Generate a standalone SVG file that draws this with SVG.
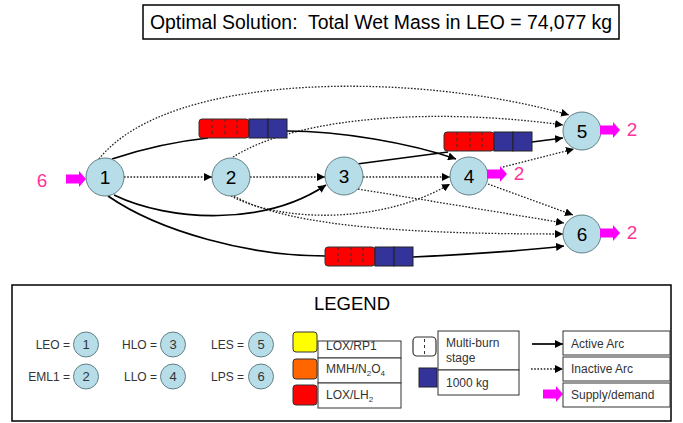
<svg xmlns="http://www.w3.org/2000/svg" width="683" height="423" viewBox="0 0 683 423">
<defs>
<style>
text{font-family:"Liberation Sans",Arial,sans-serif}
.node{fill:#B7DEE8;stroke:#5F7F86;stroke-width:1}
.num{font-size:19px;text-anchor:middle;fill:#000}
.pink{font-size:19px;text-anchor:middle;fill:#FF3399}
.act{fill:none;stroke:#000;stroke-width:1.7}
.ina{fill:none;stroke:#222;stroke-width:1.3;stroke-dasharray:1.6 1.6}
.red{fill:#FF0000;stroke:#333;stroke-width:1}
.blue{fill:#333399;stroke:#222;stroke-width:1}
.div{stroke:#333;stroke-width:1;stroke-dasharray:3 3}
.lg{font-size:12px;fill:#333}
.lgbox{fill:#fff;stroke:#333;stroke-width:1}
.lnum{font-size:13px;text-anchor:middle;fill:#333}
.sup{fill:#FF00FF}
</style>
<marker id="ah" viewBox="0 0 10 10" refX="10" refY="5" markerWidth="8" markerHeight="8" markerUnits="userSpaceOnUse" orient="auto"><path d="M0,0 L10,5 L0,10 z" fill="#000"/></marker>
<path id="sarrow" d="M0,-4.5 H13 V-8 L20,0 L13,8 V4.5 H0 z" class="sup"/>
</defs>
<rect width="683" height="423" fill="#fff"/>

<g id="title">
<rect x="143" y="5" width="476" height="34" fill="#fff" stroke="#000" stroke-width="1.5"/>
<text x="381" y="28.5" font-size="19.4" text-anchor="middle" xml:space="preserve">Optimal Solution:  Total Wet Mass in LEO = 74,077 kg</text>
</g>

<g id="connectors">
<path class="ina" d="M99,159 C170,70 420,72 569,115" marker-end="url(#ah)"/>
<path class="ina" d="M233,157 C300,115 440,108 563,125" marker-end="url(#ah)"/>
<path class="ina" d="M124,177 L212,177" marker-end="url(#ah)"/>
<path class="ina" d="M250,177 L325,177" marker-end="url(#ah)"/>
<path class="ina" d="M363,177 L450,177" marker-end="url(#ah)"/>
<path class="ina" d="M503,167 L574,149" marker-end="url(#ah)"/>
<path class="ina" d="M488,184 L573,215" marker-end="url(#ah)"/>
<path class="ina" d="M358,189 L564,223" marker-end="url(#ah)"/>
<path class="ina" d="M231,196 C280,222 380,225 450,184" marker-end="url(#ah)"/>
<path class="ina" d="M234,196 C290,228 420,234 563,234" marker-end="url(#ah)"/>
<path class="act" d="M112,159 Q160,143 208,138"/>
<path class="act" d="M287,131 C340,131 410,143 456,159" marker-end="url(#ah)"/>
<path class="act" d="M114,195 C170,222 265,226 326,185" marker-end="url(#ah)"/>
<path class="act" d="M108,196 C160,232 250,256 325,256"/>
<path class="act" d="M413,257 C480,254 530,250 564,246" marker-end="url(#ah)"/>
<path class="act" d="M357,164 L448,152"/>
<path class="act" d="M532,142 L563,138" marker-end="url(#ah)"/>
</g>

<g id="stageA">
<rect class="red" x="199" y="119" width="50" height="19" rx="3"/>
<line class="div" x1="212" y1="119" x2="212" y2="138"/>
<line class="div" x1="225" y1="119" x2="225" y2="138"/>
<line class="div" x1="237" y1="119" x2="237" y2="138"/>
<rect class="blue" x="249" y="119" width="19" height="19"/>
<rect class="blue" x="268" y="119" width="19" height="19"/>
</g>
<g id="stageB">
<rect class="red" x="444" y="132" width="50" height="19" rx="3"/>
<line class="div" x1="457" y1="132" x2="457" y2="151"/>
<line class="div" x1="470" y1="132" x2="470" y2="151"/>
<line class="div" x1="482" y1="132" x2="482" y2="151"/>
<rect class="blue" x="494" y="132" width="19" height="19"/>
<rect class="blue" x="513" y="132" width="19" height="19"/>
</g>
<g id="stageC">
<rect class="red" x="325" y="247" width="50" height="19" rx="3"/>
<line class="div" x1="338" y1="247" x2="338" y2="266"/>
<line class="div" x1="351" y1="247" x2="351" y2="266"/>
<line class="div" x1="363" y1="247" x2="363" y2="266"/>
<rect class="blue" x="375" y="247" width="19" height="19"/>
<rect class="blue" x="394" y="247" width="19" height="19"/>
</g>

<g id="n1"><circle class="node" cx="105" cy="177" r="19"/><text class="num" x="105" y="184">1</text></g>
<g id="n2"><circle class="node" cx="231" cy="177" r="19"/><text class="num" x="231" y="184">2</text></g>
<g id="n3"><circle class="node" cx="344" cy="176" r="19"/><text class="num" x="344" y="183">3</text></g>
<g id="n4"><circle class="node" cx="469" cy="176" r="19"/><text class="num" x="469" y="183">4</text></g>
<g id="n5"><circle class="node" cx="582" cy="131" r="19"/><text class="num" x="582" y="138">5</text></g>
<g id="n6"><circle class="node" cx="582" cy="234" r="19"/><text class="num" x="582" y="241">6</text></g>

<g id="supply1"><use href="#sarrow" x="66" y="179"/><text class="pink" x="42" y="187">6</text></g>
<g id="demand4"><use href="#sarrow" x="487" y="174"/><text class="pink" x="519" y="180">2</text></g>
<g id="demand5"><use href="#sarrow" x="600" y="130"/><text class="pink" x="632" y="136">2</text></g>
<g id="demand6"><use href="#sarrow" x="600" y="233"/><text class="pink" x="632" y="239">2</text></g>

<g id="legend">
<rect x="12" y="285" width="659" height="136" fill="#fff" stroke="#000" stroke-width="1.5"/>
<text x="352" y="310" font-size="18.5" text-anchor="middle" fill="#000">LEGEND</text>
<text class="lg" x="70" y="349" text-anchor="end">LEO =</text>
<circle class="node" cx="86" cy="344.5" r="12.5"/><text class="lnum" x="86" y="349">1</text>
<text class="lg" x="70" y="381" text-anchor="end">EML1 =</text>
<circle class="node" cx="86" cy="376.5" r="12.5"/><text class="lnum" x="86" y="381">2</text>
<text class="lg" x="157" y="349" text-anchor="end">HLO =</text>
<circle class="node" cx="173" cy="344.5" r="12.5"/><text class="lnum" x="173" y="349">3</text>
<text class="lg" x="157" y="381" text-anchor="end">LLO =</text>
<circle class="node" cx="173" cy="376.5" r="12.5"/><text class="lnum" x="173" y="381">4</text>
<text class="lg" x="244" y="349" text-anchor="end">LES =</text>
<circle class="node" cx="261" cy="344.5" r="12.5"/><text class="lnum" x="261" y="349">5</text>
<text class="lg" x="244" y="381" text-anchor="end">LPS =</text>
<circle class="node" cx="261" cy="376.5" r="12.5"/><text class="lnum" x="261" y="381">6</text>

<rect x="293" y="332" width="24" height="20" rx="3" fill="#FFFF00" stroke="#333"/>
<rect x="293" y="359" width="24" height="20" rx="3" fill="#FF6600" stroke="#333"/>
<rect x="293" y="385" width="24" height="20" rx="3" fill="#FF0000" stroke="#333"/>
<rect class="lgbox" x="318" y="341" width="83" height="17"/>
<rect class="lgbox" x="318" y="358" width="83" height="25"/>
<rect class="lgbox" x="318" y="383" width="83" height="25"/>
<text class="lg" x="326" y="350">LOX/RP1</text>
<text class="lg" x="326" y="373">MMH/N<tspan font-size="8" dy="3">2</tspan><tspan dy="-3">O</tspan><tspan font-size="8" dy="3">4</tspan></text>
<text class="lg" x="326" y="399">LOX/LH<tspan font-size="8" dy="3">2</tspan></text>

<rect x="413" y="337" width="23" height="19" rx="4" fill="#fff" stroke="#333" stroke-width="1.2"/>
<line class="div" x1="424.5" y1="339" x2="424.5" y2="355"/>
<rect x="419" y="368" width="18" height="19" fill="#333399" stroke="#222"/>
<rect class="lgbox" x="438" y="331" width="81" height="39"/>
<rect class="lgbox" x="438" y="370" width="81" height="25"/>
<text class="lg" x="446" y="347">Multi-burn</text>
<text class="lg" x="446" y="362">stage</text>
<text class="lg" x="446" y="387">1000 kg</text>

<line class="act" x1="532" y1="344" x2="563" y2="344" marker-end="url(#ah)"/>
<line class="ina" x1="531" y1="369" x2="563" y2="369" marker-end="url(#ah)"/>
<use href="#sarrow" x="543" y="394"/>
<rect class="lgbox" x="563" y="331" width="107" height="24"/>
<rect class="lgbox" x="563" y="357" width="107" height="24"/>
<rect class="lgbox" x="563" y="383" width="107" height="24"/>
<text class="lg" x="571" y="348">Active Arc</text>
<text class="lg" x="571" y="373">Inactive Arc</text>
<text class="lg" x="571" y="399">Supply/demand</text>
</g>
</svg>
